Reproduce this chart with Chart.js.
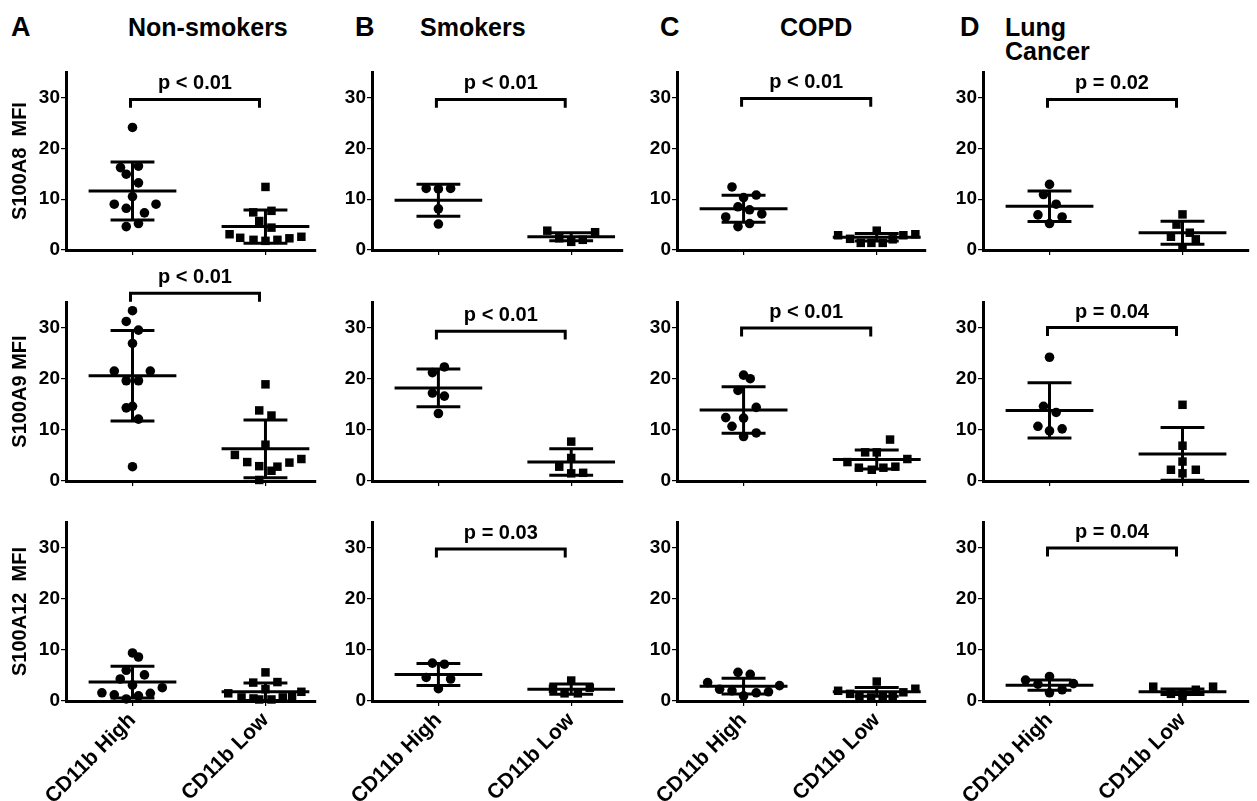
<!DOCTYPE html>
<html>
<head>
<meta charset="utf-8">
<script src="https://cdn.jsdelivr.net/npm/chart.js@4.4.0/dist/chart.umd.min.js"></script>
<style>
  body { margin: 0; background: #fff; width: 1257px; height: 801px; position: relative; overflow: hidden;
         font-family: "Liberation Sans", Arial, sans-serif; }
  .lbl { position: absolute; font-weight: bold; color: #000; white-space: nowrap; line-height: 1; }
</style>
</head>
<body>
<div class="lbl" style="left:11px;top:14px;font-size:27px">A</div>
<div class="lbl" style="left:128px;top:15px;font-size:25px">Non-smokers</div>
<div class="lbl" style="left:355px;top:14px;font-size:27px">B</div>
<div class="lbl" style="left:420px;top:15px;font-size:25px">Smokers</div>
<div class="lbl" style="left:660px;top:14px;font-size:27px">C</div>
<div class="lbl" style="left:780px;top:15px;font-size:25px">COPD</div>
<div class="lbl" style="left:960px;top:14px;font-size:27px">D</div>
<div class="lbl" style="left:1005px;top:15px;font-size:25px">Lung</div>
<div class="lbl" style="left:1005px;top:39px;font-size:25px">Cancer</div>

<script>
const groups = ["Non-smokers", "Smokers", "COPD", "Lung Cancer"];
const markers = ["S100A8  MFI", "S100A9 MFI", "S100A12  MFI"];
const xLabels = ["CD11b High", "CD11b Low"];
const yTicks = [0, 10, 20, 30];

// S100A8 - one list per group, same order as groups
const a8HighY = [
  [24.1, 16.2, 16.5, 14.9, 13.2, 10.5, 9.0, 9.0, 8.2, 7.3, 5.2, 4.6],
  [12.1, 12.0, 12.1, 8.1, 5.1],
  [12.4, 10.8, 10.3, 8.5, 7.9, 6.5, 7.1, 4.6, 5.2],
  [12.9, 10.9, 9.0, 6.9, 6.5, 5.2]
];
const a8HighDx = [
  [0, -0.09, 0.045, -0.047, 0.045, 0, -0.137, 0.177, -0.047, 0.09, 0.045, -0.047],
  [-0.092, 0, 0.092, 0, 0],
  [-0.087, 0.095, 0, -0.042, 0.045, -0.134, 0.137, -0.042, 0.045],
  [0, -0.045, 0.05, -0.087, 0.095, 0]
];
const a8LowY = [
  [12.4, 7.4, 7.7, 5.7, 4.4, 3.1, 2.4, 2.0, 1.8, 2.0, 2.3, 2.6],
  [3.8, 2.3, 1.6, 2.0, 3.5],
  [2.9, 2.2, 1.4, 1.4, 3.8, 1.4, 2.1, 2.9, 3.1],
  [7.0, 5.0, 3.4, 2.6, 2.1, 0.5]
];
const a8LowDx = [
  [0, -0.092, 0.045, -0.047, 0.045, -0.27, -0.19, -0.09, 0, 0.09, 0.18, 0.27],
  [-0.18, -0.09, 0, 0.087, 0.18],
  [-0.29, -0.2, -0.12, -0.04, 0, 0.045, 0.12, 0.2, 0.29],
  [0, -0.045, 0.055, -0.087, 0.1, 0]
];
const a8Mean = [[11.6, 4.6], [9.8, 2.6], [8.1, 2.5], [8.6, 3.4]];
const a8Sd = [[5.7, 3.25], [3.15, 0.8], [2.65, 0.75], [3.0, 2.25]];

// S100A9
const a9HighY = [
  [33.3, 31.2, 29.5, 26.9, 21.5, 21.5, 19.6, 19.6, 14.3, 14.6, 12.1, 2.8],
  [22.3, 21.2, 17.2, 16.6, 13.2],
  [20.7, 20.0, 17.7, 14.4, 12.4, 12.3, 10.7, 9.4, 8.7],
  [24.2, 14.6, 13.4, 10.7, 9.8, 10.2]
];
const a9HighDx = [
  [0, -0.047, 0.045, 0, -0.137, 0.134, -0.047, 0.045, -0.047, 0, 0.045, 0],
  [0.045, -0.045, -0.045, 0.045, 0],
  [0, 0.05, -0.042, 0.095, -0.134, 0, -0.087, 0.095, 0],
  [0, -0.045, 0.05, -0.087, 0, 0.095]
];
const a9LowY = [
  [18.9, 13.8, 12.8, 7.1, 5.1, 3.7, 2.9, 2.8, 2.0, 3.6, 4.3, 0.2],
  [7.7, 4.5, 2.8, 1.5, 1.6],
  [8.1, 5.6, 5.6, 4.3, 3.7, 2.6, 2.2, 2.6, 2.8],
  [14.9, 6.9, 3.8, 2.2, 2.2, 1.5]
];
const a9LowDx = [
  [0, -0.047, 0.045, 0, -0.23, -0.137, -0.047, 0.09, 0.045, 0.18, 0.27, -0.047],
  [0, 0, -0.09, 0, 0.09],
  [0.1, -0.087, 0, 0.23, -0.22, -0.134, -0.037, 0.05, 0.14],
  [0, 0, 0, -0.087, 0.1, 0]
];
const a9Mean = [[20.6, 6.3], [18.2, 3.7], [13.9, 4.2], [13.8, 5.3]];
const a9Sd = [[8.85, 5.65], [3.7, 2.6], [4.55, 1.85], [5.4, 5.15]];

// S100A12
const a12HighY = [
  [9.4, 8.6, 6.0, 5.1, 4.3, 3.1, 2.6, 1.6, 1.2, 1.5, 1.0, 0.4],
  [7.4, 7.2, 4.6, 4.3, 2.4],
  [5.6, 5.2, 3.6, 3.0, 2.3, 2.0, 1.6, 1.8, 1.0],
  [4.8, 4.1, 3.4, 3.3, 2.2, 1.6]
];
const a12HighDx = [
  [0, 0.045, -0.047, 0.09, -0.092, 0, 0.224, -0.23, -0.137, 0.134, 0.045, -0.047],
  [-0.045, 0.045, -0.092, 0.092, 0],
  [-0.042, 0.05, -0.27, 0.27, -0.18, -0.087, 0.095, 0.187, 0],
  [0, -0.18, 0.18, -0.087, 0.095, 0]
];
const a12LowY = [
  [5.6, 3.6, 3.7, 1.5, 1.8, 2.3, 0.7, 0.5, 0.3, 0.3, 0.7, 1.0],
  [4.0, 2.4, 2.6, 1.5, 1.5],
  [3.8, 2.0, 2.4, 1.4, 1.7, 1.0, 1.0, 0.7, 0.9],
  [2.8, 2.8, 1.4, 2.2, 1.6, 0.7]
];
const a12LowDx = [
  [0, -0.092, 0.09, -0.28, 0.27, 0, -0.18, -0.09, 0.045, -0.047, 0.13, 0.2],
  [0, -0.137, 0.14, -0.05, 0.05],
  [0, -0.29, 0.29, -0.2, 0.2, -0.13, 0.12, -0.042, 0.045],
  [-0.22, 0.23, -0.087, 0.1, 0, 0]
];
const a12Mean = [[3.7, 1.8], [5.2, 2.3], [2.9, 1.8], [3.1, 1.8]];
const a12Sd = [[3.1, 1.7], [2.15, 1.0], [1.55, 0.85], [1.0, 0.55]];

// significance brackets, rows = markers, cols = groups
const bracketY = [[29.6, 29.6, 29.8, 29.6], [36.7, 29.3, 29.9, 30.0], [null, 29.7, null, 29.9]];
const pText = [
  ["p < 0.01", "p < 0.01", "p < 0.01", "p = 0.02"],
  ["p < 0.01", "p < 0.01", "p < 0.01", "p = 0.04"],
  [null, "p = 0.03", null, "p = 0.04"]
];

// layout of the grid (pixels)
const axisLeft = [66, 372, 677, 983];
const plotTop = [72, 302, 522];
const plotH = [178, 179, 179];
const xMax = [2.38, 2.39, 2.37, 2.5];
const TOP_PAD = 44;
const FONT = "'Liberation Sans', Arial, sans-serif";

function drawStats(chart, mean, sd, by, txt) {
  const { ctx, scales: { x, y } } = chart;
  ctx.save();
  ctx.strokeStyle = "#000";
  ctx.fillStyle = "#000";
  ctx.lineWidth = 3;
  const seg = (x1, y1, x2, y2) => {
    ctx.beginPath();
    ctx.moveTo(x1, y1);
    ctx.lineTo(x2, y2);
    ctx.stroke();
  };
  mean.forEach((m, i) => {
    const c = i + 1;
    const yU = y.getPixelForValue(m + sd[i]);
    const yL = y.getPixelForValue(m - sd[i]);
    const yM = y.getPixelForValue(m);
    seg(x.getPixelForValue(c - 0.33), yM, x.getPixelForValue(c + 0.33), yM);
    seg(x.getPixelForValue(c), yU, x.getPixelForValue(c), yL);
    seg(x.getPixelForValue(c - 0.165), yU, x.getPixelForValue(c + 0.165), yU);
    seg(x.getPixelForValue(c - 0.165), yL, x.getPixelForValue(c + 0.165), yL);
  });
  if (by !== null) {
    const x1 = x.getPixelForValue(0.985), x2 = x.getPixelForValue(1.955);
    const yb = y.getPixelForValue(by), yl = y.getPixelForValue(by - 1.65);
    ctx.beginPath();
    ctx.moveTo(x1, yl);
    ctx.lineTo(x1, yb);
    ctx.lineTo(x2, yb);
    ctx.lineTo(x2, yl);
    ctx.stroke();
    ctx.font = "bold 20px " + FONT;
    ctx.textAlign = "center";
    ctx.textBaseline = "alphabetic";
    ctx.fillText(txt, (x1 + x2) / 2, yb - 10);
  }
  ctx.restore();
}

function makePanel(row, col, highY, highDx, lowY, lowDx, mean, sd) {
  const yW = col === 0 ? 66 : 50;
  const xH = row === 2 ? 100 : 14;
  const plotW = Math.round((xMax[col] - 0.5) * 134);
  const w = yW + plotW + 4;
  const h = TOP_PAD + plotH[row] + xH;
  const canvas = document.createElement("canvas");
  canvas.width = w;
  canvas.height = h;
  canvas.style.cssText = `position:absolute;left:${axisLeft[col] - yW}px;top:${plotTop[row] - TOP_PAD}px;width:${w}px;height:${h}px`;
  document.body.appendChild(canvas);

  new Chart(canvas, {
    type: "scatter",
    data: {
      datasets: [
        {
          label: xLabels[0],
          data: highY.map((v, i) => ({ x: 1 + highDx[i], y: v })),
          pointStyle: "circle",
          pointRadius: 4.8,
          backgroundColor: "#000",
          borderWidth: 0,
          clip: false,
        },
        {
          label: xLabels[1],
          data: lowY.map((v, i) => ({ x: 2 + lowDx[i], y: v })),
          pointStyle: "rect",
          pointRadius: 6,
          backgroundColor: "#000",
          borderWidth: 0,
          clip: false,
        },
      ],
    },
    options: {
      responsive: false,
      animation: false,
      events: [],
      layout: { padding: { top: TOP_PAD, right: 4, left: 0, bottom: 0 } },
      scales: {
        x: {
          type: "linear",
          min: 0.5,
          max: xMax[col],
          afterBuildTicks: (a) => { a.ticks = [{ value: 1 }, { value: 2 }]; },
          afterFit: (a) => { a.height = xH; },
          grid: { drawOnChartArea: false, drawTicks: true, tickLength: 5, color: "#000", lineWidth: 1.2 },
          border: { display: true, color: "#000", width: 3 },
          ticks: {
            autoSkip: false,
            maxRotation: 45,
            minRotation: 45,
            padding: 2,
            color: "#000",
            font: { family: FONT, size: 21, weight: "bold" },
            callback: (v) => (row === 2 ? xLabels[v - 1] : ""),
          },
        },
        y: {
          min: 0,
          max: 35,
          afterBuildTicks: (a) => { a.ticks = yTicks.map((v) => ({ value: v })); },
          afterFit: (a) => { a.width = yW; },
          grid: { drawOnChartArea: false, drawTicks: true, tickLength: 5, color: "#000", lineWidth: 1.2 },
          border: { display: true, color: "#000", width: 3 },
          ticks: { padding: 1, color: "#000", font: { family: FONT, size: 19, weight: "bold" }, callback: (v) => String(v) },
          title: {
            display: col === 0,
            text: markers[row],
            color: "#000",
            font: { family: FONT, size: 20, weight: "bold" },
            padding: { top: 8, bottom: 0 },
          },
        },
      },
      plugins: { legend: { display: false }, tooltip: { enabled: false } },
    },
    plugins: [
      {
        id: "stats",
        afterDatasetsDraw: (chart) => drawStats(chart, mean, sd, bracketY[row][col], pText[row][col]),
      },
    ],
  });
}

for (let c = 0; c < groups.length; c++) {
  makePanel(0, c, a8HighY[c], a8HighDx[c], a8LowY[c], a8LowDx[c], a8Mean[c], a8Sd[c]);
  makePanel(1, c, a9HighY[c], a9HighDx[c], a9LowY[c], a9LowDx[c], a9Mean[c], a9Sd[c]);
  makePanel(2, c, a12HighY[c], a12HighDx[c], a12LowY[c], a12LowDx[c], a12Mean[c], a12Sd[c]);
}
</script>
</body>
</html>
